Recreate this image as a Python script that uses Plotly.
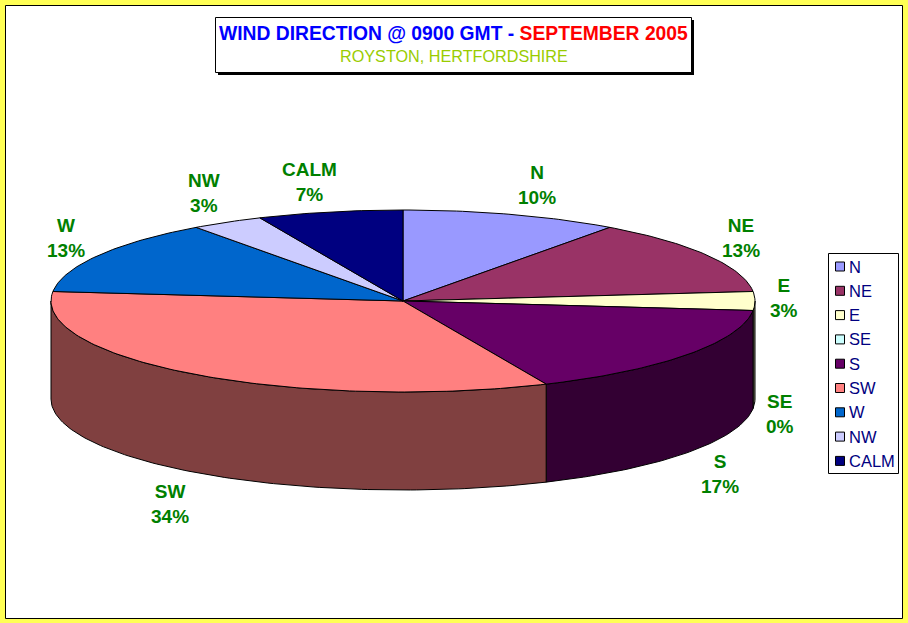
import numpy as np
import plotly.graph_objects as go

categories = ["N", "NE", "E", "SE", "S", "SW", "W", "NW", "CALM"]
days = [3, 4, 1, 0, 5, 10, 4, 1, 2]
percent_labels = ["10%", "13%", "3%", "0%", "17%", "34%", "13%", "3%", "7%"]
colors = ["#9999FF", "#993366", "#FFFFCC", "#CCFFFF", "#660066", "#FF8080", "#0066CC", "#CCCCFF", "#000080"]
wall_colors = ["#4D4D80", "#4D1A33", "#808066", "#668080", "#330033", "#804040", "#003366", "#666680", "#000040"]
label_x = [537, 741, 784, 780, 720, 170, 66, 204, 309]
label_y = [185, 238, 298, 414, 474, 504, 238, 193, 182]

W, H = 908, 623
CX, CY, RX, RY, DEPTH = 403, 301, 352, 91, 98
GREEN = "#008000"
FONT = "Liberation Sans, Arial"


def arc(a0, a1):
    n = max(2, int(abs(a1 - a0)) + 2)
    t = np.radians(np.linspace(a0, a1, n))
    return CX + RX * np.sin(t), CY - RY * np.cos(t)


fig = go.Figure()
total = sum(days)
edges = np.concatenate([[0], np.cumsum(days)]) * 360 / total

# side walls (only the front half of the cylinder is visible)
for i, name in enumerate(categories):
    a0, a1 = max(edges[i], 90), min(edges[i + 1], 270)
    if a1 <= a0:
        continue
    x, y = arc(a0, a1)
    fig.add_trace(go.Scatter(
        x=np.concatenate([x, x[::-1], x[:1]]),
        y=np.concatenate([y, y[::-1] + DEPTH, y[:1]]),
        mode="lines", fill="toself", fillcolor=wall_colors[i],
        line=dict(color="#000000", width=1), hoverinfo="skip", showlegend=False))

# top faces
for i, name in enumerate(categories):
    if days[i] == 0:
        continue
    x, y = arc(edges[i], edges[i + 1])
    fig.add_trace(go.Scatter(
        x=np.concatenate([[CX], x, [CX]]),
        y=np.concatenate([[CY], y, [CY]]),
        mode="lines", fill="toself", fillcolor=colors[i],
        line=dict(color="#000000", width=1), name=name,
        text=f"{name}: {days[i]}", hoverinfo="text", showlegend=False))

# legend
LEG_X0, LEG_Y0, LEG_X1, LEG_Y1 = 828, 253, 898, 473
leg_y = [LEG_Y0 + 13.5 + 24.3 * i for i in range(len(categories))]
fig.add_trace(go.Scatter(
    x=[LEG_X0 + 12] * len(categories), y=leg_y,
    mode="markers",
    marker=dict(symbol="square", size=9, color=colors, line=dict(color="#000000", width=1)),
    hoverinfo="skip", showlegend=False, cliponaxis=False))

annotations = []
for i, name in enumerate(categories):
    annotations.append(dict(
        x=LEG_X0 + 19, y=leg_y[i], xref="x", yref="y", showarrow=False, xanchor="left",
        text=name, font=dict(family=FONT, size=16.5, color="#000080")))
    annotations.append(dict(
        x=label_x[i], y=label_y[i], xref="x", yref="y", showarrow=False,
        text=f"<b>{name}<br>{percent_labels[i]}</b>", align="center",
        font=dict(family=FONT, size=19, color=GREEN)))

annotations.append(dict(
    x=453.5, y=33, xref="x", yref="y", showarrow=False,
    text='<b><span style="color:#0000FF">WIND DIRECTION @ 0900 GMT - </span>'
         '<span style="color:#FF0000">SEPTEMBER 2005</span></b>',
    font=dict(family=FONT, size=19.3)))
annotations.append(dict(
    x=453.5, y=56, xref="x", yref="y", showarrow=False,
    text="ROYSTON, HERTFORDSHIRE",
    font=dict(family=FONT, size=16.2, color="#99CC00")))

shapes = [
    dict(type="rect", x0=5.5, y0=5.5, x1=902.5, y1=618.5, xref="x", yref="y", layer="below",
         fillcolor="#FFFFFF", line=dict(color="#000000", width=1)),
    dict(type="rect", x0=218, y0=20, x1=694, y1=75, xref="x", yref="y", layer="below",
         fillcolor="#000000", line=dict(width=0)),
    dict(type="rect", x0=215.5, y0=17.5, x1=691.5, y1=72.5, xref="x", yref="y", layer="below",
         fillcolor="#FFFFFF", line=dict(color="#000000", width=1)),
    dict(type="rect", x0=LEG_X0 + .5, y0=LEG_Y0 + .5, x1=LEG_X1 + .5, y1=LEG_Y1 + .5, xref="x", yref="y",
         layer="below", fillcolor="#FFFFFF", line=dict(color="#000000", width=1)),
]

fig.update_layout(
    width=W, height=H, margin=dict(l=0, r=0, t=0, b=0, pad=0),
    paper_bgcolor="#FFFF55", plot_bgcolor="rgba(0,0,0,0)",
    xaxis=dict(range=[0, W], visible=False, fixedrange=True),
    yaxis=dict(range=[H, 0], visible=False, fixedrange=True),
    shapes=shapes, annotations=annotations, showlegend=False,
)
fig.write_html("out.html", config={"displayModeBar": False},
               post_script="document.body.style.margin='0';document.body.style.overflow='hidden';")
